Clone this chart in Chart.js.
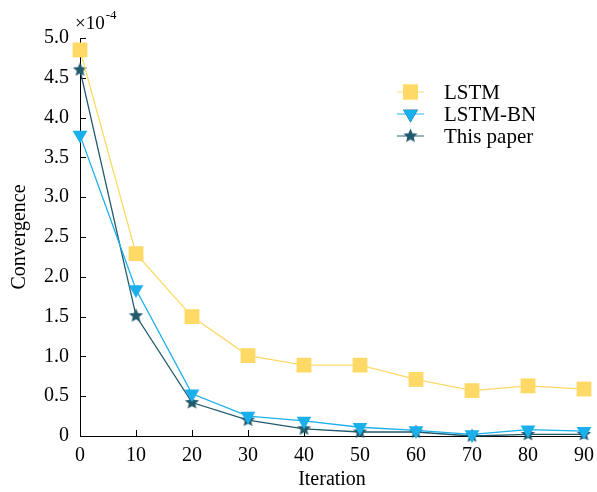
<!DOCTYPE html>
<html>
<head>
<meta charset="utf-8">
<script src="https://cdn.jsdelivr.net/npm/chart.js@4"></script>
<style>
  html, body { margin: 0; padding: 0; background: #fff; }
  #wrap { width: 597px; height: 492px; }
</style>
</head>
<body>
<div id="wrap"><canvas id="chartRef" width="597" height="492"></canvas></div>
<script>
// values are in units of 1e-4
const iterations = [0, 10, 20, 30, 40, 50, 60, 70, 80, 90];
const lstm = [4.85, 2.29, 1.50, 1.01, 0.89, 0.89, 0.71, 0.57, 0.63, 0.59];
const lstmBn = [3.78, 1.84, 0.53, 0.25, 0.19, 0.11, 0.07, 0.02, 0.08, 0.06];
const thisPaper = [4.60, 1.51, 0.42, 0.20, 0.09, 0.05, 0.05, 0.00, 0.02, 0.02];
const seriesNames = ["LSTM", "LSTM-BN", "This paper"];
const yTicks = [0, 0.5, 1.0, 1.5, 2.0, 2.5, 3.0, 3.5, 4.0, 4.5, 5.0];

const FONT = "'Liberation Serif', 'DejaVu Serif', serif";
const colors = ["#FFD966", "#1AB0EC", "#215A6C"];

function makeStar(color, r) {
    const size = Math.ceil(r * 2 + 2);
    const c = document.createElement("canvas");
    c.width = size;
    c.height = size;
    const ctx = c.getContext("2d");
    const cx = size / 2, cy = size / 2;
    ctx.beginPath();
    for (let i = 0; i < 10; i++) {
        const rad = i % 2 === 0 ? r : r * 0.45;
        const a = -Math.PI / 2 + i * Math.PI / 5;
        const px = cx + rad * Math.cos(a);
        const py = cy + rad * Math.sin(a);
        if (i === 0) ctx.moveTo(px, py); else ctx.lineTo(px, py);
    }
    ctx.closePath();
    ctx.fillStyle = color;
    ctx.fill();
    return c;
}
const starImg = makeStar(colors[2], 7.5);

const toPoints = (arr) => arr.map((v, i) => ({ x: iterations[i], y: v }));

// ticks drawn inside the plot, plus the x10^-4 factor
const axisDecor = {
    id: "axisDecor",
    beforeDatasetsDraw(chart) {
        const { ctx, chartArea: { left, bottom }, scales: { x, y } } = chart;
        ctx.save();
        ctx.strokeStyle = "#000";
        ctx.lineWidth = 1;
        ctx.beginPath();
        iterations.forEach((v) => {
            const px = Math.round(x.getPixelForValue(v)) + 0.5;
            ctx.moveTo(px, bottom);
            ctx.lineTo(px, bottom - 6);
        });
        yTicks.forEach((v) => {
            const py = Math.round(y.getPixelForValue(v)) + 0.5;
            ctx.moveTo(left, py);
            ctx.lineTo(left + 6, py);
        });
        ctx.stroke();

        ctx.fillStyle = "#000";
        ctx.textBaseline = "alphabetic";
        ctx.textAlign = "left";
        ctx.font = "19px " + FONT;
        ctx.fillText("\u00d710", 75, 29);
        const w = ctx.measureText("\u00d710").width;
        ctx.font = "13px " + FONT;
        ctx.fillText("-4", 75 + w + 1, 19);
        ctx.restore();
    }
};

// legend inside plot area
const innerLegend = {
    id: "innerLegend",
    afterDraw(chart) {
        const { ctx } = chart;
        ctx.save();
        chart.data.datasets.forEach((ds, i) => {
            const yy = 92 + i * 22;
            const x0 = 397, x1 = 424, xc = (x0 + x1) / 2;
            ctx.globalAlpha = 0.7;
            ctx.strokeStyle = ds.borderColor;
            ctx.lineWidth = 1.3;
            ctx.beginPath();
            ctx.moveTo(x0, yy);
            ctx.lineTo(x1, yy);
            ctx.stroke();
            ctx.globalAlpha = 1;
            Chart.helpers.drawPoint(ctx, {
                pointStyle: ds.pointStyle,
                radius: ds.pointRadius,
                rotation: ds.pointRotation || 0,
                borderWidth: 0
            }, xc, yy);
            ctx.fillStyle = ds.backgroundColor;
            ctx.fill();
            ctx.fillStyle = "#000";
            ctx.font = "21px " + FONT;
            ctx.textAlign = "left";
            ctx.textBaseline = "middle";
            ctx.fillText(ds.label, 444, yy + 1);
        });
        ctx.restore();
    }
};

new Chart(document.getElementById("chartRef"), {
    type: "line",
    data: {
        datasets: [
            {
                label: seriesNames[0],
                data: toPoints(lstm),
                borderColor: colors[0],
                backgroundColor: colors[0],
                borderWidth: 1.3,
                pointStyle: "rect",
                pointRadius: 10.5,
                pointBorderWidth: 0,
                tension: 0,
                clip: false
            },
            {
                label: seriesNames[1],
                data: toPoints(lstmBn),
                borderColor: colors[1],
                backgroundColor: colors[1],
                borderWidth: 1.3,
                pointStyle: "triangle",
                pointRotation: 180,
                pointRadius: 8.5,
                pointBorderWidth: 0,
                tension: 0,
                clip: false
            },
            {
                label: seriesNames[2],
                data: toPoints(thisPaper),
                borderColor: colors[2],
                backgroundColor: colors[2],
                borderWidth: 1.3,
                pointStyle: starImg,
                pointRadius: 7.5,
                pointBorderWidth: 0,
                tension: 0,
                clip: false
            }
        ]
    },
    options: {
        responsive: false,
        animation: false,
        devicePixelRatio: 1,
        layout: { padding: { top: 38, right: 13, left: 0, bottom: 0 } },
        plugins: {
            legend: { display: false },
            tooltip: { enabled: false }
        },
        scales: {
            x: {
                type: "linear",
                min: 0,
                max: 90,
                afterFit(scale) { scale.height = 56; },
                afterBuildTicks(scale) { scale.ticks = iterations.map((v) => ({ value: v })); },
                border: { display: true, color: "#000", width: 1 },
                grid: { display: false },
                ticks: {
                    color: "#000",
                    font: { family: FONT, size: 20 },
                    padding: 0,
                    maxRotation: 0
                },
                title: {
                    display: true,
                    text: "Iteration",
                    color: "#000",
                    font: { family: FONT, size: 20 },
                    padding: { top: 0, bottom: 0 }
                }
            },
            y: {
                type: "linear",
                min: 0,
                max: 5,
                afterFit(scale) { scale.width = 80; },
                afterBuildTicks(scale) { scale.ticks = yTicks.map((v) => ({ value: v })); },
                border: { display: true, color: "#000", width: 1 },
                grid: { display: false },
                ticks: {
                    color: "#000",
                    font: { family: FONT, size: 20 },
                    padding: 3,
                    callback: (v) => (v === 0 ? "0" : v.toFixed(1))
                },
                title: {
                    display: true,
                    text: "Convergence",
                    color: "#000",
                    font: { family: FONT, size: 20 },
                    padding: { top: 8, bottom: 0 }
                }
            }
        }
    },
    plugins: [axisDecor, innerLegend]
});
</script>
</body>
</html>
